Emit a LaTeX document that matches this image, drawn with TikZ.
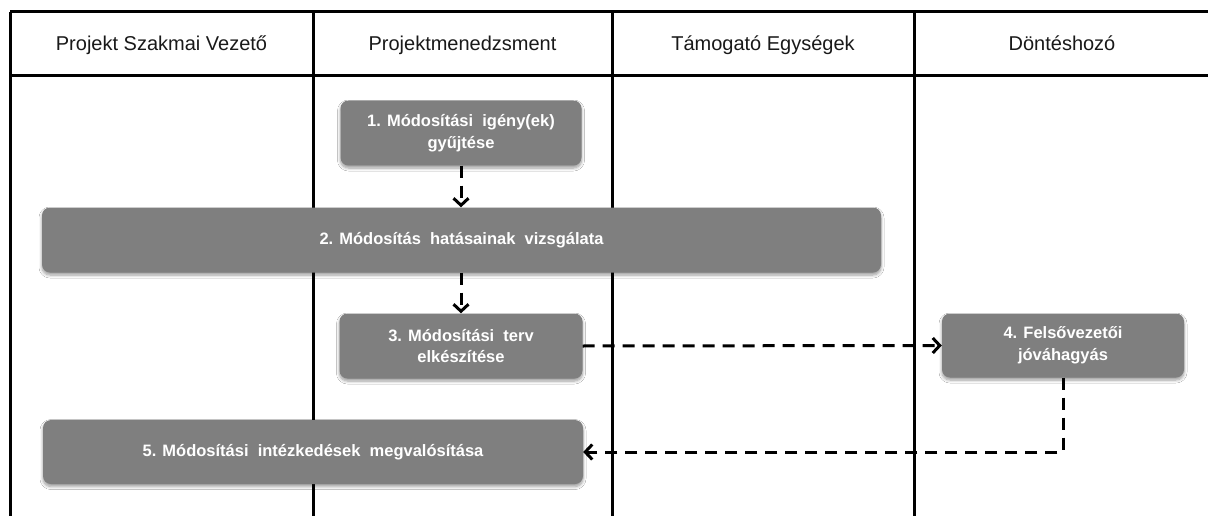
\documentclass[tikz,border=0pt]{standalone}
\usepackage{fontspec}
\setmainfont{Liberation Sans}
\usetikzlibrary{arrows.meta,shadows.blur}
\definecolor{stepgray}{HTML}{7F7F7F}
\tikzset{
  lane/.style={line width=3pt, black},
  lanehead/.style={anchor=base, font=\fontsize{20}{23}\selectfont, text=black!90},
  stepbox/.style={rectangle, rounded corners=8pt, fill=stepgray,
    text=white, align=center, inner sep=0pt,
    font=\bfseries\fontsize{16.5}{21.5}\selectfont,
    blur shadow={shadow xshift=0pt, shadow yshift=-2.5pt,
      shadow blur radius=3pt, shadow blur steps=6, shadow opacity=40}},
  flow/.style={line width=3pt, dash pattern=on 12pt off 8pt,
    -{Straight Barb[length=7pt, width=15pt, line width=3pt]}}
}
\begin{document}
\begin{tikzpicture}[x=1pt, y=-1pt]
  \useasboundingbox (0,0) rectangle (1208,516);
  \fill[white] (0,0) rectangle (1208,516);

  % swimlane grid
  \draw[lane] (10,12) -- (1210,12);
  \draw[lane] (10,76) -- (1210,76);
  \foreach \xx in {10,313,612,914}
    \draw[lane] (\xx,12) -- (\xx,518);

  % lane headings (aligned on a common baseline)
  \node[lanehead] (h1) at (161.5,51) {Projekt Szakmai Vezető};
  \node[lanehead] (h2) at (462.5,51) {Projektmenedzsment};
  \node[lanehead] (h3) at (763,51) {Támogató Egységek};
  \node[lanehead] (h4) at (1062,51) {Döntéshozó};

  % process steps
  \node[stepbox, minimum width=241pt, minimum height=65pt] (b1) at (461,133)
    {1. Módosítási\ \ igény(ek)\\gyűjtése};
  \node[stepbox, minimum width=839pt, minimum height=65pt] (b2) at (461.5,240)
    {2. Módosítás\ \ hatásainak\ \ vizsgálata};
  \node[stepbox, minimum width=243pt, minimum height=65pt] (b3) at (461,346)
    {3. Módosítási\ \ terv\\elkészítése};
  \node[stepbox, minimum width=242pt, minimum height=64pt] (b4) at (1063,345.5)
    {4. Felsővezetői\\jóváhagyás};
  \node[stepbox, minimum width=540pt, minimum height=64pt] (b5) at (313,452)
    {5. Módosítási\ \ intézkedések\ \ megvalósítása};

  % connectors
  \draw[flow] (b1.south) -- (b1.south |- b2.north);
  \draw[flow] (b3.north |- b2.south) -- (b3.north);
  \draw[flow] (b3.east) -- (b4.west);
  \draw[flow] (b4.south) |- (b5.east);
\end{tikzpicture}
\end{document}
